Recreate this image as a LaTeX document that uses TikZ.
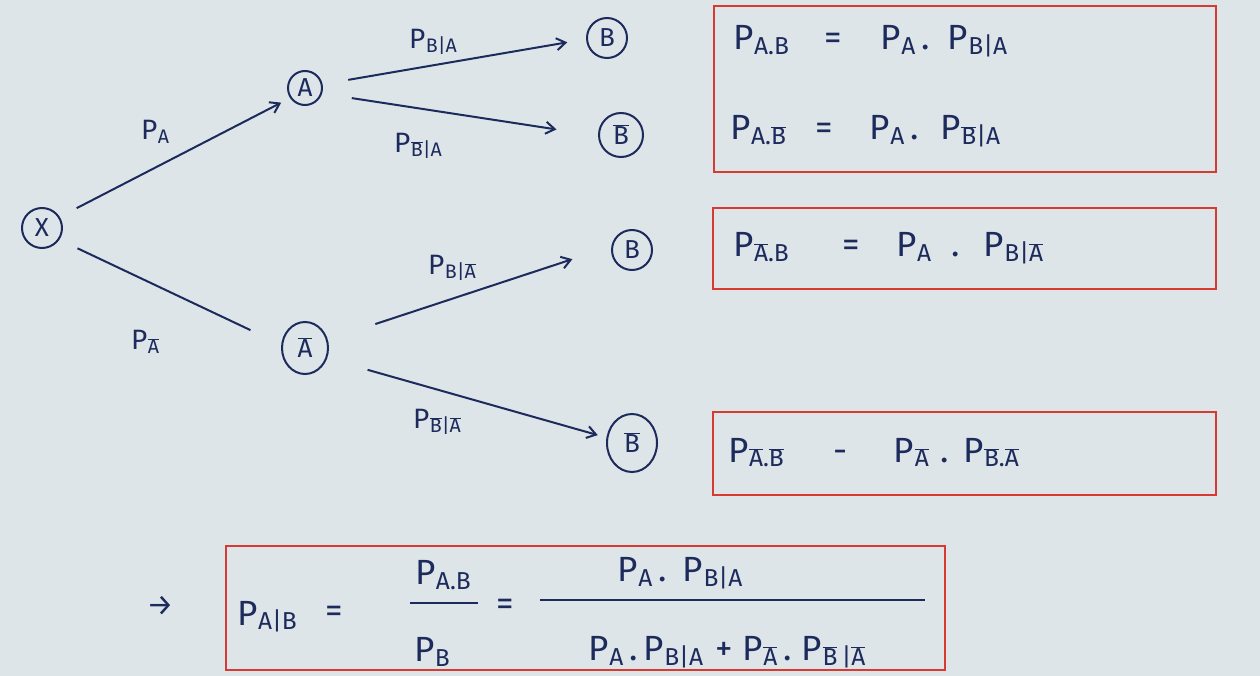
\documentclass[tikz,border=0pt]{standalone}
\usepackage{fontspec}
\setmainfont{Fira Sans}
\usetikzlibrary{arrows.meta,shapes.geometric}
\definecolor{bg}{RGB}{222,229,233}
\definecolor{ink}{RGB}{28,42,92}
\definecolor{boxred}{RGB}{214,58,48}
\newcommand\Ps[1]{P\kern0.5pt\raisebox{-0.14em}{\scalebox{0.7}{#1}}}
\newcommand\ov[1]{\ensuremath{\overline{\hbox{#1}}}}
\tikzset{
  state/.style={circle,draw=ink,line width=2pt,text=ink,inner sep=0pt,font=\fontsize{26}{26}\selectfont},
  ostate/.style={ellipse,draw=ink,line width=2pt,text=ink,inner sep=0pt,font=\fontsize{26}{26}\selectfont},
  conn/.style={draw=ink,line width=2pt},
  arr/.style={conn,-{Straight Barb[length=9pt,width=12pt,line width=2pt]}},
  lbl/.style={text=ink,inner sep=0pt,font=\fontsize{28}{28}\selectfont},
  eqn/.style={text=ink,inner sep=0pt,anchor=base west,font=\fontsize{35}{35}\selectfont},
  redbox/.style={draw=boxred,line width=2.8pt},
  fracbar/.style={draw=ink,line width=2pt}
}
\begin{document}
\begin{tikzpicture}[x=1pt,y=1pt]
\fill[bg] (0,0) rectangle (1260,-676);
\useasboundingbox (0,0) rectangle (1260,-676);
% tree nodes
\node[state,minimum size=40pt] (X) at (42,-228) {X};
\node[state,minimum size=34pt] (A) at (305,-88) {A};
\node[ostate,minimum width=46pt,minimum height=52pt] (Ab) at (305,-348) {\ov{A}};
\node[state,minimum size=40pt] (B1) at (607,-38) {B};
\node[state,minimum size=44pt] (B2) at (621,-135) {\ov{B}};
\node[state,minimum size=40pt] (B3) at (632,-250) {B};
\node[ostate,minimum width=50pt,minimum height=58pt] (B4) at (632,-443) {\ov{B}};
% connectors
\draw[arr,shorten <=19pt,shorten >=10pt] (X.32) -- (A.214);
\draw[conn,shorten <=20pt,shorten >=34pt] (X.-34) -- (Ab.172);
\draw[arr,shorten <=26pt,shorten >=19pt] (A.12) -- (B1.183);
\draw[arr,shorten <=30pt,shorten >=42pt] (A.-18) -- (B2.182);
\draw[arr,shorten <=50pt,shorten >=41pt] (Ab.20) -- (B3.170);
\draw[arr,shorten <=42pt,shorten >=9pt] (Ab.-25) -- (B4.168);
% edge labels
\node[lbl] (lA) at (155,-132) {\Ps{A}};
\node[lbl] (lAb) at (145,-342) {\Ps{\ov{A}}};
\node[lbl] (lBA) at (433,-42) {\Ps{B|A}};
\node[lbl] (lBbA) at (418,-146) {\Ps{\ov{B}|A}};
\node[lbl] (lBAb) at (452,-268) {\Ps{B|\ov{A}}};
\node[lbl] (lBbAb) at (437,-422) {\Ps{\ov{B}|\ov{A}}};
% boxes
\draw[redbox] (714,-6) rectangle (1216,-172);
\draw[redbox] (713,-208) rectangle (1216,-289);
\draw[redbox] (713,-412) rectangle (1216,-495);
\draw[redbox] (226,-546) rectangle (945,-670);
% box equations
\node[eqn] (e1) at (733,-50) {\Ps{A.B}\hspace{36pt}=\hspace{38pt}\Ps{A}\,.\hspace{18pt}\Ps{B|A}};
\node[eqn] (e2) at (730,-140) {\Ps{A.\ov{B}}\hspace{30pt}=\hspace{36pt}\Ps{A}\,.\hspace{22pt}\Ps{\ov{B}|A}};
\node[eqn] (e3) at (733,-257) {\Ps{\ov{A}.B}\hspace{54pt}=\hspace{36pt}\Ps{A}\hspace{20pt}.\hspace{24pt}\Ps{B|\ov{A}}};
\node[eqn] (e4) at (728,-462) {\Ps{\ov{A}.\ov{B}}\hspace{50pt}-\hspace{46pt}\Ps{\ov{A}}\hspace{12pt}.\hspace{14pt}\Ps{\ov{B}.\ov{A}}};
% bottom formula
\node[lbl,font=\fontsize{30}{30}\selectfont] (arrow) at (160,-606) {→};
\node[eqn] (pab) at (237,-625) {\Ps{A|B}};
\node[eqn] (eq1) at (325,-622) {=};
\node[eqn,anchor=center] (n1) at (443,-575) {\Ps{A.B}};
\node[eqn,anchor=center] (d1) at (432,-652) {\Ps{B}};
\coordinate (f1l) at (410,-603);
\coordinate (f1r) at (478,-603);
\draw[fracbar] (f1l) -- (f1r);
\node[eqn] (eq2) at (496,-615) {=};
\node[eqn,anchor=center] (n2) at (680,-573) {\Ps{A}\,.\hspace{16pt}\Ps{B|A}};
\node[eqn,anchor=center] (d2) at (727,-652) {\Ps{A}\,.\,\Ps{B|A}\hspace{12pt}+\hspace{10pt}\Ps{\ov{A}}\,.\hspace{10pt}\Ps{\ov{B}\,|\ov{A}}};
\coordinate (f2l) at (540,-600);
\coordinate (f2r) at (925,-600);
\draw[fracbar] (f2l) -- (f2r);
\end{tikzpicture}
\end{document}
